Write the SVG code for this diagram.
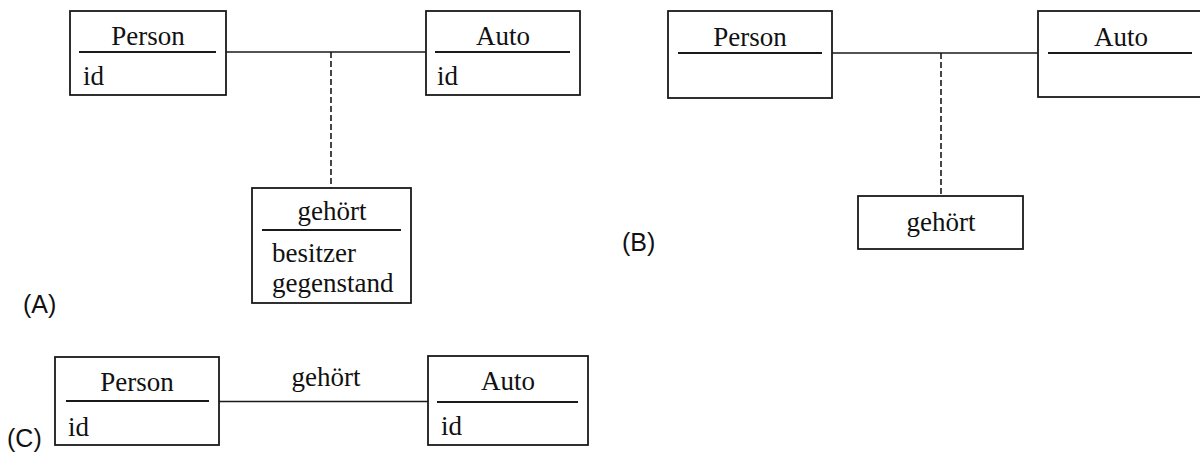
<svg xmlns="http://www.w3.org/2000/svg" width="1200" height="453" viewBox="0 0 1200 453">
<style>
  .box { fill: #fff; stroke: #1a1a1a; stroke-width: 1.8; }
  .sep { stroke: #1a1a1a; stroke-width: 1.8; }
  .line { stroke: #1a1a1a; stroke-width: 1.6; fill: none; }
  .dash { stroke: #1a1a1a; stroke-width: 1.6; fill: none; stroke-dasharray: 6 3; }
  .t { font-family: "Liberation Serif", "Times New Roman", serif; font-size: 27px; fill: #111; }
  .c { text-anchor: middle; }
  .lbl { font-family: "Liberation Sans", Arial, sans-serif; font-size: 25px; fill: #111; }
</style>
<rect width="1200" height="453" fill="#fff"/>

<g id="connectors">
  <line class="line" x1="226" y1="52" x2="426" y2="52"/>
  <line class="dash" x1="331" y1="52" x2="331" y2="188"/>
  <line class="line" x1="832" y1="53" x2="1038" y2="53"/>
  <line class="dash" x1="941" y1="53" x2="941" y2="196"/>
  <line class="line" x1="219" y1="401.5" x2="428" y2="401.5"/>
  <text class="t c" x="326" y="386">gehört</text>
</g>

<g id="A-person">
  <rect class="box" x="70" y="11" width="156" height="84"/>
  <line class="sep" x1="79" y1="52" x2="216" y2="52"/>
  <text class="t c" x="148" y="45">Person</text>
  <text class="t" x="83" y="85">id</text>
</g>
<g id="A-auto">
  <rect class="box" x="426" y="11" width="154" height="84"/>
  <line class="sep" x1="435" y1="52" x2="570" y2="52"/>
  <text class="t c" x="503" y="45">Auto</text>
  <text class="t" x="437" y="85">id</text>
</g>
<g id="A-gehoert">
  <rect class="box" x="252" y="188" width="159" height="115"/>
  <line class="sep" x1="262" y1="230" x2="401" y2="230"/>
  <text class="t c" x="332" y="220">gehört</text>
  <text class="t" x="272" y="262">besitzer</text>
  <text class="t" x="272" y="292">gegenstand</text>
</g>
<g id="label-A">
  <text class="lbl" x="23" y="313">(A)</text>
</g>

<g id="B-person">
  <rect class="box" x="668" y="11" width="164" height="87"/>
  <line class="sep" x1="678" y1="53" x2="822" y2="53"/>
  <text class="t c" x="750" y="46">Person</text>
</g>
<g id="B-auto">
  <rect class="box" x="1038" y="11" width="170" height="86"/>
  <line class="sep" x1="1048" y1="53" x2="1192" y2="53"/>
  <text class="t c" x="1121" y="46">Auto</text>
</g>
<g id="B-gehoert">
  <rect class="box" x="858" y="196" width="165" height="53"/>
  <text class="t c" x="941" y="231">gehört</text>
</g>
<g id="label-B">
  <text class="lbl" x="622" y="251">(B)</text>
</g>

<g id="C-person">
  <rect class="box" x="55" y="357" width="164" height="88"/>
  <line class="sep" x1="66" y1="401" x2="209" y2="401"/>
  <text class="t c" x="137" y="391">Person</text>
  <text class="t" x="68" y="436">id</text>
</g>
<g id="C-auto">
  <rect class="box" x="428" y="356" width="160" height="89"/>
  <line class="sep" x1="437" y1="402" x2="578" y2="402"/>
  <text class="t c" x="508" y="390">Auto</text>
  <text class="t" x="441" y="435">id</text>
</g>
<g id="label-C">
  <text class="lbl" x="7" y="447">(C)</text>
</g>
</svg>
